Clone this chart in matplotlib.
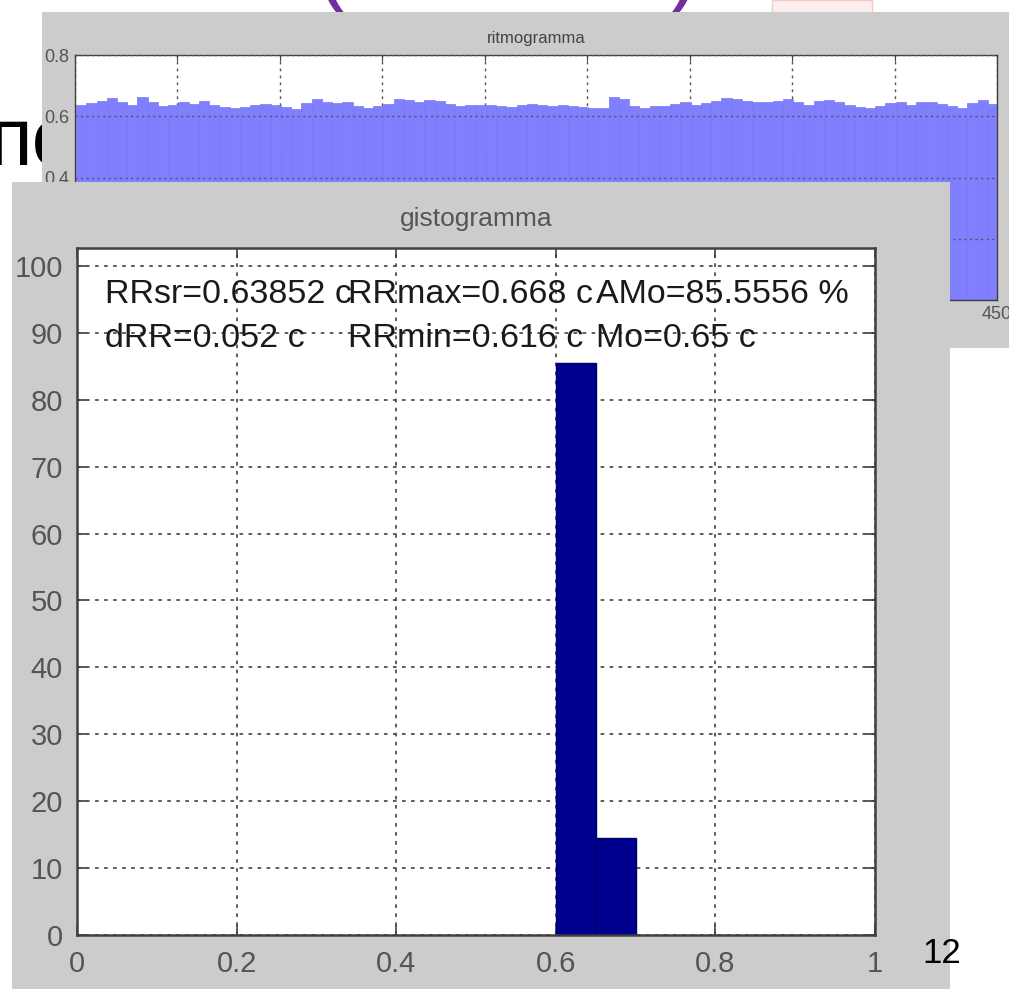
import numpy as np
import matplotlib.pyplot as plt
from matplotlib import font_manager
from matplotlib.patches import Rectangle

plt.rcParams['font.family'] = ['Liberation Sans', 'DejaVu Sans']
names = {f.name for f in font_manager.fontManager.ttflist}
narrow = 'Liberation Sans Narrow' if 'Liberation Sans Narrow' in names else None

# ritmogramma: RR intervals (s), one value per 5 beats
rr_beat = np.arange(3, 450, 5)
rr_values = [
    0.638, 0.644, 0.649, 0.660, 0.647, 0.636, 0.662, 0.647, 0.632, 0.636,
    0.647, 0.641, 0.649, 0.636, 0.629, 0.627, 0.630, 0.638, 0.640, 0.638,
    0.629, 0.625, 0.644, 0.655, 0.645, 0.643, 0.647, 0.632, 0.626, 0.633,
    0.640, 0.655, 0.653, 0.647, 0.653, 0.649, 0.640, 0.633, 0.638, 0.636,
    0.638, 0.633, 0.629, 0.638, 0.640, 0.636, 0.633, 0.636, 0.634, 0.629,
    0.627, 0.627, 0.662, 0.655, 0.633, 0.627, 0.632, 0.634, 0.640, 0.647,
    0.638, 0.644, 0.651, 0.658, 0.655, 0.649, 0.645, 0.646, 0.649, 0.655,
    0.647, 0.636, 0.651, 0.653, 0.645, 0.637, 0.629, 0.627, 0.634, 0.643,
    0.645, 0.638, 0.648, 0.646, 0.640, 0.634, 0.626, 0.644, 0.654, 0.640,
]
rr_xticks = np.arange(0, 451, 50)
rr_yticks = [0, 0.2, 0.4, 0.6, 0.8]

# gistogramma
bin_left = [0.60, 0.65]
bin_width = 0.05
percents = np.array([85.5556, 14.4444])
hist_xticks = [0, 0.2, 0.4, 0.6, 0.8, 1]
hist_yticks = np.arange(0, 101, 10)
stats_line1 = ['RRsr=0.63852 c', 'RRmax=0.668 c', 'AMo=85.5556 %']
stats_line2 = ['dRR=0.052 c', 'RRmin=0.616 c', 'Mo=0.65 c']
stats_x = [0.035, 0.34, 0.65]

W, H = 1009, 989
fig = plt.figure(figsize=(W / 100, H / 100), dpi=100, facecolor='white')


def fx(px):
    return px / W


def fy(py):
    return 1 - py / H


# slide background bits (partly hidden behind the figures)
purple = '#7030A0'
for ch, px in zip(['(', '/', ')'], [316, 468, 668]):
    fig.text(fx(px), fy(15), ch, fontsize=64, color=purple, va='bottom',
             ha='left', zorder=0.5)
fig.text(fx(-12), fy(165), 'по', fontsize=58, color='black', va='baseline',
         zorder=0.5)
fig.add_artist(Rectangle((fx(772), fy(15)), fx(100), 15 / H,
                         transform=fig.transFigure, facecolor='#fdeeee',
                         edgecolor='#f3caca', lw=1, zorder=0.6))

# top MATLAB window
panel_gray = '#cccccc'
fig.add_artist(Rectangle((fx(42), fy(348)), fx(1009 - 42 + 5), 336 / H,
                         transform=fig.transFigure, facecolor=panel_gray,
                         edgecolor='none', zorder=1))

ax1 = fig.add_axes([fx(75), fy(300), fx(922), 245 / H], zorder=2)
ax1.bar(rr_beat, rr_values, width=5, color='#8080ff', edgecolor='#7878f4',
        linewidth=0.5)
ax1.set_xlim(0, 450)
ax1.set_ylim(0, 0.8)
ax1.set_xticks(rr_xticks)
ax1.set_yticks(rr_yticks)
ax1.set_axisbelow(True)
ax1.xaxis.grid(True, linestyle=(0, (2, 3)), color='#555555', lw=1)
ax1.hlines(rr_yticks, 0, 450, colors='#505070', linestyles=(0, (1.5, 2.5)),
           lw=1, zorder=3)
small_family = [narrow, 'Liberation Sans'] if narrow else ['Liberation Sans']
tsize = 15 if narrow else 13
ax1.tick_params(direction='in', length=4, colors='#404040', labelcolor='#555555',
                labelsize=tsize, top=True, right=True, pad=4)
ax1.set_yticklabels(['0', '0.2', '0.4', '0.6', '0.8'])
for lab in ax1.get_xticklabels() + ax1.get_yticklabels():
    lab.set_fontfamily(small_family)
for s in ax1.spines.values():
    s.set_color('#404040')
    s.set_linewidth(1)
ax1.set_title('ritmogramma', fontsize=12, color='#444444', pad=9,
              family=small_family)

# histogram MATLAB window
fig.add_artist(Rectangle((fx(12), 0), fx(938), 807 / H,
                         transform=fig.transFigure, facecolor=panel_gray,
                         edgecolor='none', zorder=3))

ax2 = fig.add_axes([fx(77), fy(935), fx(798), 687 / H], zorder=4)
ax2.bar(bin_left, percents, width=bin_width, align='edge', color='#00008f',
        edgecolor='#000066', linewidth=1, zorder=2)
ax2.set_xlim(0, 1)
ax2.set_ylim(0, percents.max() * 1.2)
ax2.set_xticks(hist_xticks)
ax2.set_xticklabels(['0', '0.2', '0.4', '0.6', '0.8', '1'])
ax2.set_yticks(hist_yticks)
ax2.set_axisbelow(True)
ax2.grid(True, linestyle=(0, (2, 3)), color='#505050', lw=1.3)
ax2.tick_params(direction='in', length=7, width=1.2, colors='#404040',
                labelcolor='#555555', labelsize=21, top=True, right=True)
ax2.tick_params(axis='y', pad=10)
ax2.tick_params(axis='x', pad=11)
for s in ax2.spines.values():
    s.set_color('#404040')
    s.set_linewidth(1.8)
ax2.set_title('gistogramma', fontsize=19, color='#555555', pad=16)

for x, t in zip(stats_x, stats_line1):
    ax2.text(x, 94.5, t, fontsize=24.5, color='#1a1a1a', va='baseline')
for x, t in zip(stats_x, stats_line2):
    ax2.text(x, 87.8, t, fontsize=24.5, color='#1a1a1a', va='baseline')

# slide page number sits on top of everything
fig.text(fx(922), fy(963), '12', fontsize=25, color='black', va='baseline',
         zorder=10)

fig.savefig('out.png', dpi=100, facecolor='white')
